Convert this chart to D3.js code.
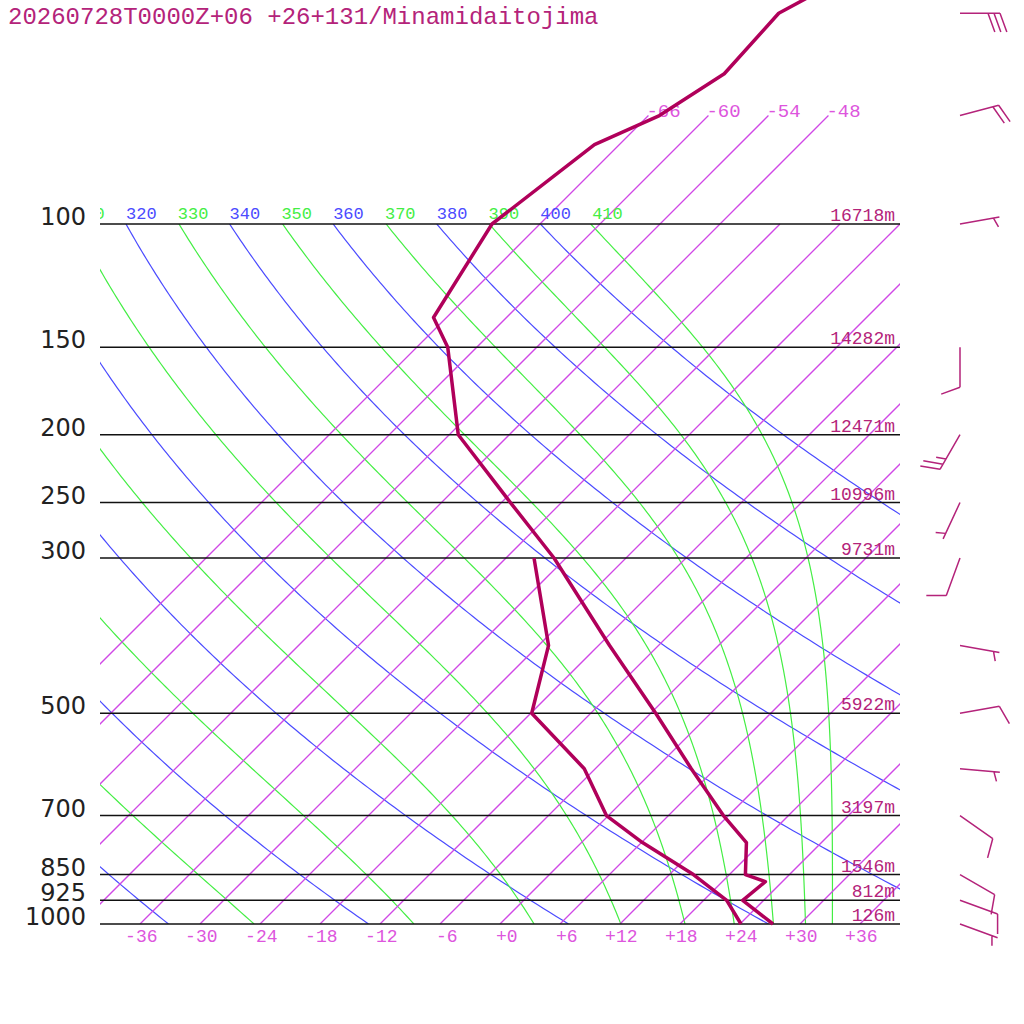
<!DOCTYPE html>
<html>
<head>
<meta charset="utf-8">
<script src="https://cdn.jsdelivr.net/npm/d3@7"></script>
<style>
  body { margin: 0; background: #fff; }
  .isotherm { stroke: #d048e6; stroke-width: 1.3px; fill: none; }
  .dry { stroke: #4b4bff; stroke-width: 1.2px; fill: none; }
  .moist { stroke: #44ee44; stroke-width: 1.2px; fill: none; }
</style>
</head>
<body>
<div id="chart"></div>
<script>
// sounding values
const title = "20260728T0000Z+06 +26+131/Minamidaitojima";

const levels  = [1000, 925, 850, 700, 500, 300, 250, 200, 150, 100];
const heights = [126, 812, 1546, 3197, 5922, 9731, 10996, 12471, 14282, 16718];

const tempTicks = [-36, -30, -24, -18, -12, -6, 0, 6, 12, 18, 24, 30, 36];
const isotherms = [-66, -60, -54, -48, -42, -36, -30, -24, -18, -12, -6, 0, 6, 12, 18, 24, 30, 36];
const upperIsotherms = [-66, -60, -54, -48];
const dryThetas   = [240, 260, 280, 300, 320, 340, 360, 380, 400];
const moistThetas = [250, 270, 290, 310, 330, 350, 370, 390, 410];

const tempP = [1000, 925, 870, 850, 765, 700, 600, 500, 400, 300, 250, 200, 150, 136, 100, 77, 70, 61, 50, 30];
const tempT = [27.3, 21.9, 22.3, 19.6, 16.5, 11.5, 3.6, -5.5, -16.9, -31.2, -41.1, -53.1, -62.9, -67.3, -70.8, -68.5, -64.9, -62.6, -63.2, -50.0];

const dewP = [1000, 925, 850, 765, 700, 600, 500, 400, 300];
const dewT = [24.1, 20.3, 14.4, 6.1, -0.2, -7.1, -17.9, -23.0, -33.2];

const windP   = [50, 70, 100, 150, 200, 250, 300, 400, 500, 600, 700, 850, 925, 1000];
const windDir = [90, 75, 80, 180, 210, 205, 200, 100, 80, 95, 125, 120, 110, 110];
const windSpd = [30, 20, 5, 10, 25, 5, 10, 5, 10, 5, 10, 10, 10, 5];

const W = 1024, H = 1024;
const plotLeft = 100, plotRight = 900, plotBottom = 924, plotTop = 224;

const mono = "'Liberation Mono', 'DejaVu Sans Mono', monospace";
const labelPink = "#dd55dd", dark = "#b4237a";
const dryColor = "#4b4bff", moistColor = "#44ee44";

const x = d3.scaleLinear().domain([-40, 40]).range([plotLeft, plotRight]);
const y = d3.scaleLog().domain([1000, 100]).range([plotBottom, plotTop]);

// 45 degree skew
const skewX = (t, p) => x(t) + (y(1000) - y(p));

const svg = d3.select("#chart")
    .append("svg")
        .attr("width", W)
        .attr("height", H)
        .style("background", "#fff");

const defs = svg.append("defs");
defs.append("clipPath").attr("id", "plot")
    .append("rect").attr("x", plotLeft).attr("y", plotTop).attr("width", plotRight - plotLeft).attr("height", plotBottom - plotTop);
defs.append("clipPath").attr("id", "isoclip")
    .append("rect").attr("x", plotLeft).attr("y", 100).attr("width", plotRight - plotLeft).attr("height", plotBottom - 100);
defs.append("clipPath").attr("id", "labclip")
    .append("rect").attr("x", plotLeft).attr("y", 190).attr("width", plotRight - plotLeft).attr("height", 40);

const line = d3.line()
    .x(d => skewX(d.t, d.p))
    .y(d => y(d.p));

const pSteps = d3.range(0, 181).map(i => 1000 * Math.pow(0.1, i / 180));

// dry adiabats
const dryT = (theta, p) => theta * Math.pow(p / 1000, 0.2857) - 273.15;

// saturated equivalent potential temperature (Bolton)
function es(tc) { return 6.112 * Math.exp(17.67 * tc / (tc + 243.5)); }
function thetaE(tk, p) {
    const e = es(tk - 273.15);
    if (e >= p * 0.6) return 1e9;
    const r = 0.622 * e / (p - e) * 1000;
    return tk * Math.pow(1000 / p, 0.2854 * (1 - 0.00028 * r)) *
        Math.exp((3.376 / tk - 0.00254) * r * (1 + 0.00081 * r));
}
function moistT(te, p) {
    let lo = 150, hi = 340;
    for (let i = 0; i < 50; i++) {
        const mid = (lo + hi) / 2;
        if (thetaE(mid, p) > te) hi = mid; else lo = mid;
    }
    return (lo + hi) / 2 - 273.15;
}

const adG = svg.append("g").attr("clip-path", "url(#plot)");
adG.selectAll("path.dry")
    .data(dryThetas)
    .join("path")
        .attr("class", "dry")
        .attr("d", th => line(pSteps.map(p => ({p, t: dryT(th, p)}))));

adG.selectAll("path.moist")
    .data(moistThetas)
    .join("path")
        .attr("class", "moist")
        .attr("d", th => line(pSteps.map(p => ({p, t: moistT(th, p)}))));

// isotherms
svg.append("g")
    .attr("clip-path", "url(#isoclip)")
    .selectAll("path")
    .data(isotherms)
    .join("path")
        .attr("class", "isotherm")
        .attr("d", t => line([{p: 1000, t}, {p: upperIsotherms.includes(t) ? 70 : 100, t}]));

svg.append("g").selectAll("text")
    .data(upperIsotherms)
    .join("text")
        .attr("x", t => skewX(t, 70) - 2)
        .attr("y", y(70) + 1)
        .attr("font-family", mono)
        .attr("font-size", 19)
        .attr("fill", labelPink)
        .text(t => t);

// theta labels above the 100 hPa line
const thetaLabels = dryThetas.map(v => ({v, c: dryColor}))
    .concat(moistThetas.map(v => ({v, c: moistColor})))
    .filter(d => d.v >= 310);
svg.append("g")
    .attr("clip-path", "url(#labclip)")
    .selectAll("text")
    .data(thetaLabels)
    .join("text")
        .attr("x", d => skewX(dryT(d.v, 100), 100))
        .attr("y", y(100) - 5)
        .attr("font-family", mono)
        .attr("font-size", 17)
        .attr("fill", d => d.c)
        .text(d => d.v);

// pressure lines
svg.append("g").selectAll("line")
    .data(levels)
    .join("line")
        .attr("x1", plotLeft).attr("x2", plotRight)
        .attr("y1", p => y(p)).attr("y2", p => y(p))
        .style("stroke", "#111")
        .attr("stroke-width", 1.5);

// height labels
svg.append("g").selectAll("text")
    .data(levels)
    .join("text")
        .attr("x", 895)
        .attr("y", p => y(p) - 3)
        .attr("text-anchor", "end")
        .attr("font-family", mono)
        .attr("font-size", 18)
        .attr("fill", dark)
        .text((p, i) => heights[i] + "m");

// pressure axis
const yAxis = svg.append("g")
    .attr("transform", `translate(${plotLeft}, 0)`)
    .call(d3.axisLeft(y).tickValues(levels).tickFormat(d3.format("d")).tickSize(0).tickPadding(14));
yAxis.select(".domain").remove();
yAxis.selectAll("text")
    .attr("dy", "0.02em")
    .attr("font-family", "'DejaVu Sans', sans-serif")
    .attr("font-size", 24)
    .attr("fill", "#222");

// temperature axis
const fmtT = d => d > 0 ? "+" + d : d === 0 ? "+0" : String(d);
const xAxis = svg.append("g")
    .attr("transform", `translate(0, ${plotBottom})`)
    .call(d3.axisBottom(x).tickValues(tempTicks).tickFormat(fmtT).tickSize(0));
xAxis.select(".domain").remove();
xAxis.selectAll("text")
    .attr("y", 18)
    .attr("dy", 0)
    .attr("x", 17)
    .attr("text-anchor", "end")
    .attr("font-family", mono)
    .attr("font-size", 18)
    .attr("fill", labelPink);

// temperature and dewpoint
const prof = d3.line()
    .x(d => skewX(d.t, d.p))
    .y(d => y(d.p));

svg.append("path")
    .datum(tempP.map((p, i) => ({p, t: tempT[i]})))
    .attr("fill", "none")
    .style("stroke", "#b0005a")
    .attr("stroke-width", 3.5)
    .attr("stroke-linejoin", "round")
    .attr("d", prof);

svg.append("path")
    .datum(dewP.map((p, i) => ({p, t: dewT[i]})))
    .attr("fill", "none")
    .style("stroke", "#b0005a")
    .attr("stroke-width", 3.5)
    .attr("stroke-linejoin", "round")
    .attr("d", prof);

// wind barbs
const bx = 960, staff = 40, step = 6;
const rot = 70 * Math.PI / 180;
const barbs = svg.append("g")
    .attr("fill", "none")
    .style("stroke", dark)
    .attr("stroke-width", 1.5);
windP.forEach((p, i) => {
    const a = windDir[i] * Math.PI / 180;
    const ux = Math.sin(a), uy = -Math.cos(a);
    const vx = ux * Math.cos(rot) - uy * Math.sin(rot);
    const vy = ux * Math.sin(rot) + uy * Math.cos(rot);
    const sy = y(p);
    const ex = bx + staff * ux, ey = sy + staff * uy;
    const path = d3.path();
    path.moveTo(bx, sy);
    path.lineTo(ex, ey);
    const full = Math.floor(windSpd[i] / 10);
    const half = windSpd[i] % 10 >= 5;
    for (let k = 0; k < full; k++) {
        const px = ex - k * step * ux, py = ey - k * step * uy;
        path.moveTo(px, py);
        path.lineTo(px + 20 * vx, py + 20 * vy);
    }
    if (half) {
        const k = full > 0 ? full : 1;
        const px = ex - k * step * ux, py = ey - k * step * uy;
        path.moveTo(px, py);
        path.lineTo(px + 10 * vx, py + 10 * vy);
    }
    barbs.append("path").attr("d", path.toString());
});

// title
svg.append("text")
    .attr("x", 8)
    .attr("y", 24)
    .attr("font-family", mono)
    .attr("font-size", 24)
    .attr("fill", dark)
    .text(title);
</script>
</body>
</html>
